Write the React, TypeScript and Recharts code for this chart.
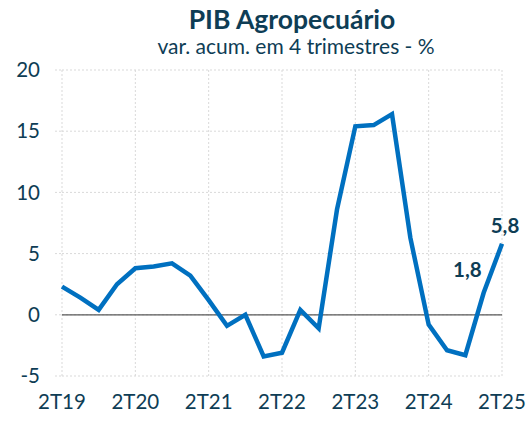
import React from 'react';
import {
  LineChart,
  Line,
  XAxis,
  YAxis,
  CartesianGrid,
  ReferenceLine,
  LabelList
} from 'recharts';

// trimestres, de 2T19 a 2T25
const quarters = [
  '2T19', '3T19', '4T19', '1T20', '2T20', '3T20', '4T20', '1T21', '2T21',
  '3T21', '4T21', '1T22', '2T22', '3T22', '4T22', '1T23', '2T23', '3T23',
  '4T23', '1T24', '2T24', '3T24', '4T24', '1T25', '2T25'
];

const pibAgro = [
  2.3, 1.4, 0.4, 2.5, 3.8, 3.95, 4.2, 3.2, 1.2,
  -0.9, 0.0, -3.4, -3.1, 0.4, -1.1, 8.6, 15.4, 15.5,
  16.4, 6.3, -0.8, -2.9, -3.3, 1.8, 5.8
];

const xTicks = [0, 4, 8, 12, 16, 20, 24];
const yTicks = [-5, 0, 5, 10, 15, 20];
const labelled = [23, 24];

const data = quarters.map((q, i) => ({ i, q, v: pibAgro[i] }));

const DARK = '#0E3D55';
const FONT = 'Lato, "Open Sans", sans-serif';

const ValueLabel = (props: any) => {
  const { x, y, index, value } = props;
  if (!labelled.includes(index)) return null;
  const last = index === quarters.length - 1;
  return (
    <text
      x={last ? x + 3 : x - 2}
      y={last ? y - 16 : y - 21}
      textAnchor={last ? 'middle' : 'end'}
      dominantBaseline="middle"
      fill={DARK}
      fontSize={20.5}
      fontWeight={700}
      fontFamily={FONT}
    >
      {String(value).replace('.', ',')}
    </text>
  );
};

const App = () => {
  return (
    <div style={{ position: 'fixed', left: 0, top: 0, width: 528, height: 421, background: '#fff', fontFamily: FONT }}>
      <div style={{ position: 'absolute', left: 0, width: 584, top: 4, textAlign: 'center', color: DARK, fontSize: 26.5, fontWeight: 700, lineHeight: '30px' }}>
        PIB Agropecuário
      </div>
      <div style={{ position: 'absolute', left: 0, width: 592, top: 34, textAlign: 'center', color: DARK, fontSize: 21, lineHeight: '24px' }}>
        var. acum. em 4 trimestres - %
      </div>
      <LineChart
        width={528}
        height={421}
        data={data}
        margin={{ top: 70, right: 26, left: 0, bottom: 0 }}
        style={{ position: 'absolute', left: 0, top: 0 }}
      >
        <CartesianGrid stroke="#D9D9D9" strokeDasharray="2 2" />
        <XAxis
          dataKey="i"
          type="number"
          domain={[0, 24]}
          ticks={xTicks}
          tickFormatter={(i: number) => quarters[i]}
          axisLine={false}
          tickLine={false}
          height={45}
          tickSize={6}
          tickMargin={12}
          tick={{ fill: DARK, fontSize: 20.5, fontFamily: FONT }}
          interval={0}
        />
        <YAxis
          domain={[-5, 20]}
          ticks={yTicks}
          width={62}
          axisLine={false}
          tickLine={{ stroke: '#D9D9D9', strokeDasharray: '2 2' }}
          tickSize={7}
          tickMargin={15}
          tick={{ fill: DARK, fontSize: 20.5, fontFamily: FONT }}
          interval={0}
        />
        <ReferenceLine y={0} stroke="#595959" strokeWidth={1.3} />
        <Line
          type="linear"
          dataKey="v"
          stroke="#0070C0"
          strokeWidth={4.5}
          dot={false}
          isAnimationActive={false}
        >
          <LabelList dataKey="v" content={<ValueLabel />} />
        </Line>
      </LineChart>
    </div>
  );
};

export default App;
